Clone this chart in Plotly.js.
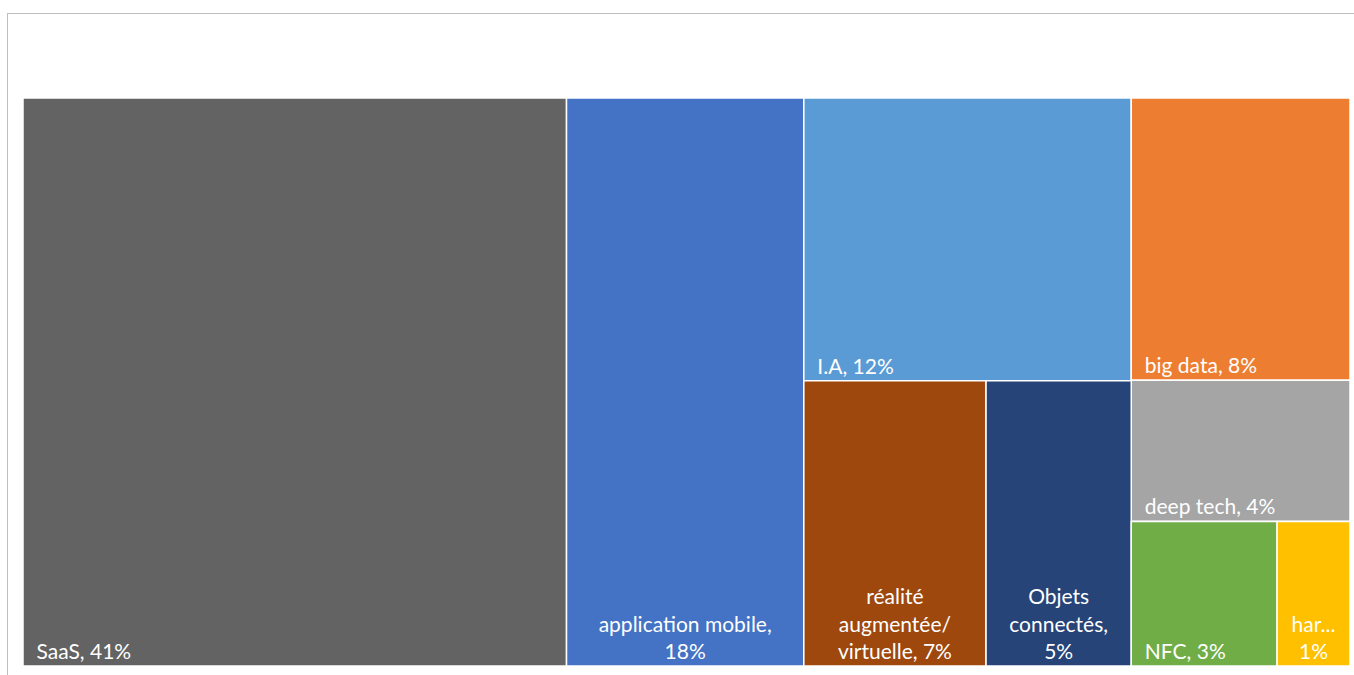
<!DOCTYPE html>
<html>
<head>
<meta charset="utf-8">
<script src="https://cdn.plot.ly/plotly-3.0.1.min.js"></script>
<style>
  html, body { margin: 0; padding: 0; background: #ffffff; }
  #chart { width: 1354px; height: 675px; position: absolute; left: 0; top: 0; }
  #frame { position: absolute; left: 7px; top: 13px; width: 1360px; height: 700px;
           border-top: 1.5px solid #bfbfbf; border-left: 1.5px solid #bfbfbf; pointer-events: none; }
</style>
</head>
<body>
<div id="chart"></div>
<div id="frame"></div>
<script>
// Hierarchy (intermediate nodes are layout groups only, no labels); sibling order = tile order
const ids     = ["SaaS", "app", "right", "rightInner",
                 "colL", "IA", "bottomL", "real", "obj",
                 "colR", "bigdata", "deeptech", "bottomR", "NFC", "har"];
const parents = ["", "", "", "right",
                 "rightInner", "colL", "colL", "bottomL", "bottomL",
                 "rightInner", "colR", "colR", "colR", "bottomR", "bottomR"];
// shares in % (read from tile areas)
const values  = [41.0, 17.9, 0, 0,
                 0, 12.3, 0, 6.9, 5.5,
                 0, 8.2, 4.1, 0, 2.8, 1.4];
const labels  = ["SaaS, 41%", "application mobile,<br>18%", "", "",
                 "", "I.A, 12%", "", "réalité<br>augmentée/<br>virtuelle, 7%", "Objets<br>connectés,<br>5%",
                 "", "big data, 8%", "deep tech, 4%", "", "NFC, 3%", "har...<br>1%"];
const colors  = ["#636363", "#4472C4", "#ffffff", "#ffffff",
                 "#ffffff", "#5B9BD5", "#ffffff", "#9E480E", "#264478",
                 "#ffffff", "#ED7D31", "#A5A5A5", "#ffffff", "#70AD47", "#FFC000"];

// labels drawn centred (multi-line in narrow tiles), others left-aligned
const centred = new Set(["app", "real", "obj", "har"]);
const pad = "\u2002";
const leftText = labels.map((t, i) => (t && !centred.has(ids[i])) ? pad + t : "");
const centreText = labels.map((t, i) => centred.has(ids[i]) ? t : "");
const font = { family: "Lato, 'Open Sans', sans-serif", size: 21, color: "#ffffff" };

const base = {
  type: "treemap",
  ids: ids,
  labels: ids,
  parents: parents,
  values: values,
  branchvalues: "remainder",
  sort: false,
  texttemplate: "%{text}",
  textfont: font,
  insidetextfont: font,
  tiling: { packing: "slice-dice", pad: 0 },
  pathbar: { visible: false },
  hoverinfo: "skip"
};

const tiles = Object.assign({}, base, {
  text: leftText,
  textposition: "bottom left",
  marker: { colors: colors, line: { color: "#ffffff", width: 1.5 }, pad: { t: 0, l: 0, r: 0, b: 0 } }
});
const centreLabels = Object.assign({}, base, {
  text: centreText,
  textposition: "bottom center",
  marker: { colors: ids.map(() => "rgba(0,0,0,0)"), line: { color: "rgba(0,0,0,0)", width: 0 },
            pad: { t: 0, l: 0, r: 0, b: 0 } }
});

const layout = {
  width: 1354, height: 675,
  margin: { l: 23, r: 4, t: 98, b: 9 },
  paper_bgcolor: "#ffffff",
  showlegend: false
};

Plotly.newPlot("chart", [tiles, centreLabels], layout, { displayModeBar: false, staticPlot: true });
</script>
</body>
</html>
